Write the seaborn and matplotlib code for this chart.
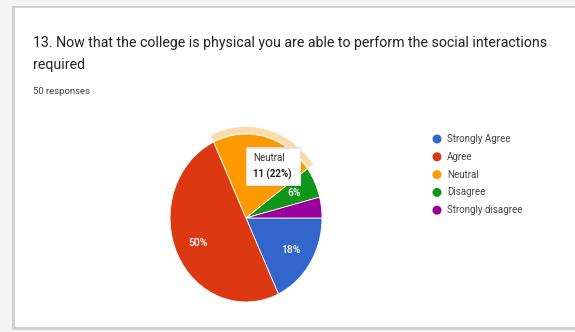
import matplotlib
matplotlib.use("Agg")
import matplotlib.pyplot as plt
import seaborn as sns
from matplotlib.patches import Rectangle, Wedge, Ellipse

categories = ["Strongly Agree", "Agree", "Neutral", "Disagree", "Strongly disagree"]
counts = [9, 25, 11, 3, 2]
colors = ["#3366cc", "#dc3912", "#ff9900", "#109618", "#990099"]
title = "13. Now that the college is physical you are able to perform the social interactions\nrequired"
subtitle = "50 responses"
tooltip_name = "Neutral"
tooltip_value = "11 (22%)"

sns.set_style("white")
plt.rcParams["font.family"] = ["Roboto", "DejaVu Sans"]

W, H = 575, 332
fig = plt.figure(figsize=(W / 100, H / 100), dpi=100)
fig.patch.set_facecolor("#f4f4f4")

def fx(px):
    return px / W

def fy(py):
    return 1 - py / H

# card
fig.patches.append(Rectangle((fx(12), fy(330)), fx(580) - fx(12), fy(6) - fy(330),
                             transform=fig.transFigure, facecolor="#d0d0d0", edgecolor="none", zorder=0.1))
fig.patches.append(Rectangle((fx(15), fy(327)), fx(580) - fx(15), fy(8) - fy(327),
                             transform=fig.transFigure, facecolor="white", edgecolor="none", zorder=0.2))

fig.text(fx(33), fy(36), title, fontsize=10.2, color="#202124", va="top", ha="left", linespacing=1.75)
fig.text(fx(33), fy(92), subtitle, fontsize=6.8, color="#3c4043", va="center", ha="left")

# pie axes
ax = fig.add_axes([fx(170), fy(302), fx(322) - fx(170), fy(134) - fy(302)])
ax.set_zorder(1)
pal = sns.color_palette(colors)

def fmt(p):
    return f"{p:.0f}%" if p >= 5 else ""

wedges, texts, autotexts = ax.pie(counts, colors=pal, startangle=0, counterclock=False,
                                  autopct=fmt, pctdistance=0.7,
                                  wedgeprops=dict(edgecolor="white", linewidth=0.6),
                                  textprops=dict(color="white", fontsize=7.5, fontweight="medium"))
# Neutral label is covered by the tooltip in the reference
autotexts[2].set_visible(False)
ax.set_aspect("auto")
ax.set_xlim(-1, 1)
ax.set_ylim(-1, 1)
ax.axis("off")

# highlight ring on Neutral slice
nw = wedges[2]
ax.add_patch(Wedge((0, 0), 1.085, nw.theta1, nw.theta2, width=0.075,
                   facecolor="#fbd7a0", edgecolor="none", alpha=0.9, clip_on=False))

# tooltip
fig.patches.append(Rectangle((fx(247), fy(186)), fx(301) - fx(247), fy(147) - fy(186),
                             transform=fig.transFigure, facecolor="#dddddd", edgecolor="none", zorder=2))
fig.patches.append(Rectangle((fx(246), fy(185)), fx(300) - fx(246), fy(148) - fy(185),
                             transform=fig.transFigure, facecolor="white", edgecolor="#e2e2e2",
                             linewidth=0.5, zorder=2.1))
fig.text(fx(253), fy(158), tooltip_name, fontsize=7, color="#333333", va="center", ha="left", zorder=3)
fig.text(fx(253), fy(174), tooltip_value, fontsize=7, color="#222222", va="center", ha="left",
         fontweight="bold", zorder=3)

# legend
for i, (c, lab) in enumerate(zip(colors, categories)):
    y = 139 + i * 17.8
    fig.patches.append(Ellipse((fx(437), fy(y)), width=9 / W, height=9 / H, transform=fig.transFigure,
                               facecolor=c, edgecolor="none", zorder=3))
    fig.text(fx(447), fy(y), lab, fontsize=7, color="#444444", va="center", ha="left")

fig.savefig("out.png", dpi=100, facecolor=fig.get_facecolor())
